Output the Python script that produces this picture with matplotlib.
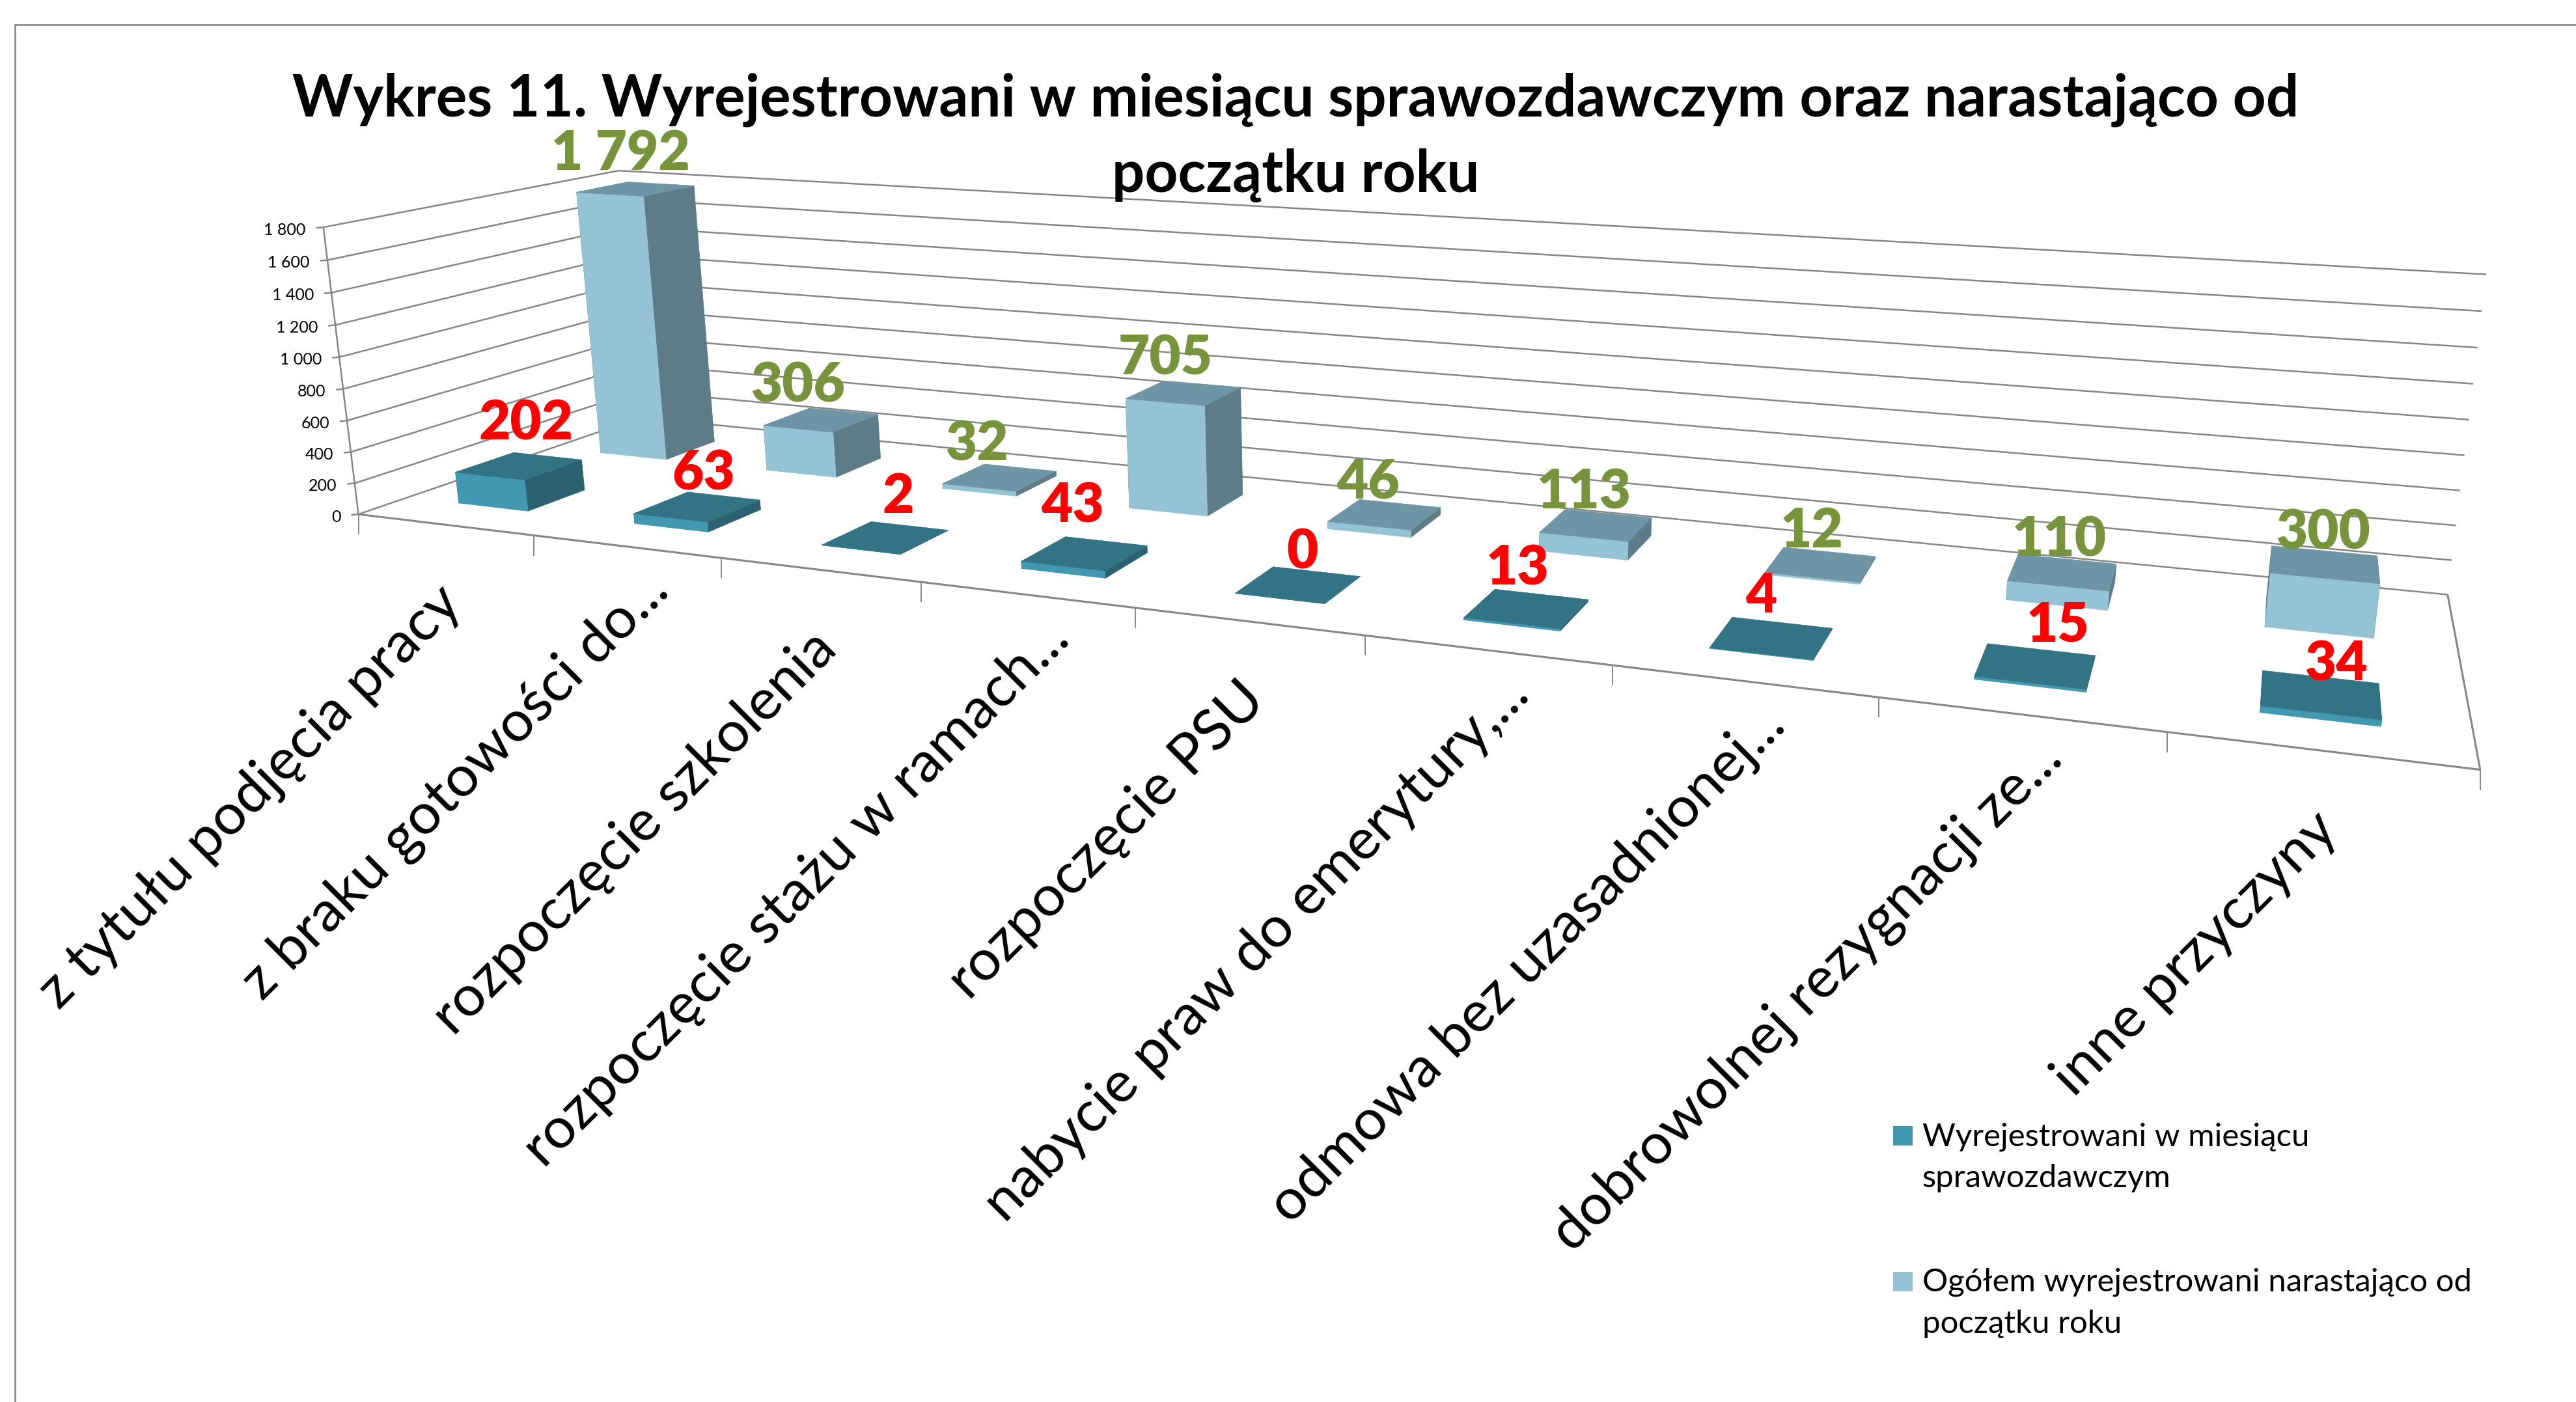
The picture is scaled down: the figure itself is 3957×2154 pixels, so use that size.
import numpy as np
import matplotlib
matplotlib.use('Agg')
import matplotlib.pyplot as plt
from matplotlib.legend_handler import HandlerPatch
from matplotlib.patches import Patch, Polygon, Rectangle

# ---------- data ----------
categories = ['z tytułu podjęcia pracy', 'z braku gotowości do...', 'rozpoczęcie szkolenia',
              'rozpoczęcie stażu w ramach...', 'rozpoczęcie PSU', 'nabycie praw do emerytury,...',
              'odmowa bez uzasadnionej...', 'dobrowolnej rezygnacji ze...', 'inne przyczyny']
monthly = [202, 63, 2, 43, 0, 13, 4, 15, 34]
cumulative = [1792, 306, 32, 705, 46, 113, 12, 110, 300]
value_ticks = [0, 200, 400, 600, 800, 1000, 1200, 1400, 1600, 1800]
series_names = ['Wyrejestrowani w miesiącu\nsprawozdawczym',
                'Ogółem wyrejestrowani narastająco od\npoczątku roku']
title_lines = 'Wykres 11. Wyrejestrowani w miesiącu sprawozdawczym oraz narastająco od\npoczątku roku'

# ---------- styles ----------
plt.rcParams['font.family'] = ['Lato', 'DejaVu Sans']
W, H = 3957, 2154
GREY = '#868686'
COL1 = dict(front='#4198B0', top='#327485', side='#2C6171')
COL2 = dict(front='#94C3D6', top='#6E95A5', side='#5E7B88')
RED, GREEN = '#FF0000', '#77933C'
BAR_U = (0.30, 0.70)
DEPTH1 = (0.155, 0.35)
DEPTH2 = (0.655, 0.85)
# label offsets from the top-back-centre of each bar (screen px)
OFF1 = [(-33, -50), (-31, -34), (-17, -44), (-52, -53), (-22, -29), (-36, -39), (-32, -40), (26, -37), (24, -19)]
OFF2 = [(-62, -46), (-71, -39), (-67, -36), (-56, -39), (-49, -33), (-37, -32), (-27, -31), (-12, -29), (-2, -27)]

# ---------- camera of the perspective view, calibrated on the chart's box ----------
CAL = [(0, 0, 0, 551, 789), (0, 0, 1800, 496, 349), (0, 1, 0, 983, 642), (0, 1, 1800, 951, 262),
       (9, 1, 0, 3760, 913), (9, 1, 1800, 3819, 422), (9, 0, 0, 3810, 1181),
       (1, 0, 0, 821, 823), (2, 0, 0, 1108, 857), (3, 0, 0, 1416, 895), (4, 0, 0, 1744.5, 934),
       (5, 0, 0, 2096.5, 977), (6, 0, 0, 2476, 1022), (7, 0, 0, 2885.6, 1072), (8, 0, 0, 3330, 1125)]
rows = []
for u, v, w, x, y in CAL:
    X = [u / 9, v, w / 1800, 1]
    rows.append(X + [0] * 4 + [-x / 1000 * t for t in X])
    rows.append([0] * 4 + X + [-y / 1000 * t for t in X])
P = np.linalg.svd(np.array(rows, float))[2][-1].reshape(3, 4)


def proj(u, v, w):
    h = P @ np.array([u / 9, v, w / 1800, 1.0])
    return h[0] / h[2] * 1000, h[1] / h[2] * 1000


def signed_area(pts):
    a = np.array(pts)
    x, y = a[:, 0], a[:, 1]
    return 0.5 * np.sum(x * np.roll(y, -1) - np.roll(x, -1) * y)


fig = plt.figure(figsize=(W / 100, H / 100), dpi=100, facecolor='white')
ax = fig.add_axes([0, 0, 1, 1])
ax.set_xlim(0, W)
ax.set_ylim(H, 0)
ax.axis('off')


def seg(a, b, lw=1.8, z=1):
    (x0, y0), (x1, y1) = a, b
    ax.plot([x0, x1], [y0, y1], color=GREY, lw=lw, solid_capstyle='butt', zorder=z)


# chart frame
ax.plot([23, 23, W], [H, 38, 38], color='#8C8C8C', lw=2.0, zorder=0, solid_joinstyle='miter')

# walls and floor
for t in value_ticks:
    seg(proj(0, 0, t), proj(0, 1, t))
    seg(proj(0, 1, t), proj(9, 1, t))
    x, y = proj(0, 0, t)
    seg((x - 11, y + 1), (x, y))
    ax.text(x - 27, y + 4, f'{t:,}'.replace(',', ' '), ha='right', va='center', fontsize=18, color='black')
seg(proj(0, 0, 0), proj(0, 0, 1800))
seg(proj(0, 0, 0), proj(9, 0, 0), lw=2.2)
seg(proj(9, 0, 0), proj(9, 1, 0), lw=2.2)
for i in range(len(categories) + 1):
    x, y = proj(i, 0, 0)
    seg((x, y), (x, y + 31), lw=1.4)


# bars
def bar(c, depth, val, col):
    u0, u1 = c + BAR_U[0], c + BAR_U[1]
    v0, v1 = depth
    left = [proj(u0, v1, 0), proj(u0, v0, 0), proj(u0, v0, val), proj(u0, v1, val)]
    right = [proj(u1, v0, 0), proj(u1, v1, 0), proj(u1, v1, val), proj(u1, v0, val)]
    front = [proj(u0, v0, 0), proj(u1, v0, 0), proj(u1, v0, val), proj(u0, v0, val)]
    top = [proj(u0, v0, val), proj(u1, v0, val), proj(u1, v1, val), proj(u0, v1, val)]
    sign = signed_area(front)
    faces = sorted([(left, col['side']), (right, col['side'])],
                   key=lambda f: signed_area(f[0]) * sign > 0)
    for poly, colour in faces + [(front, col['front']), (top, col['top'])]:
        ax.add_patch(Polygon(poly, closed=True, facecolor=colour, edgecolor=colour, lw=0.5, zorder=3))


for c, val in enumerate(cumulative):
    bar(c, DEPTH2, val, COL2)
for c, val in enumerate(monthly):
    bar(c, DEPTH1, val, COL1)

# data labels
for c, (val, off) in enumerate(zip(monthly, OFF1)):
    x, y = proj(c + 0.5, DEPTH1[1], val)
    ax.text(x + off[0], y + off[1], str(val), color=RED, fontsize=60, fontweight='heavy',
            ha='center', va='center', zorder=5)
for c, (val, off) in enumerate(zip(cumulative, OFF2)):
    x, y = proj(c + 0.5, DEPTH2[1], val)
    ax.text(x + off[0], y + off[1], f'{val:,}'.replace(',', ' '), color=GREEN, fontsize=60, fontweight='heavy',
            ha='center', va='center', zorder=5)

# category labels (the shortened ones sit further up the diagonal)
for c, name in enumerate(categories):
    x, y = proj(c + 0.5, 0, 0)
    dx, dy = (52, 55) if name.endswith('...') else (12, 108)
    ax.text(x + dx, y + dy, name, rotation=45, rotation_mode='anchor', ha='right', va='center',
            fontsize=63.5, color='black', zorder=4)

# title
ax.text(1990, 178, title_lines.split('\n')[0], ha='center', va='baseline', fontsize=64, fontweight='bold', zorder=6)
ax.text(1990, 295, title_lines.split('\n')[1], ha='center', va='baseline', fontsize=64, fontweight='bold', zorder=6)


# legend: the swatch sits beside the first line of its two-line entry
class FirstLineSwatch(HandlerPatch):
    def create_artists(self, legend, orig, xdescent, ydescent, width, height, fontsize, trans):
        return [Rectangle((-xdescent, -ydescent + 24), width, height, facecolor=orig.get_facecolor(),
                          edgecolor='none', transform=trans)]


handles = [Patch(facecolor=COL1['front'], edgecolor='none'), Patch(facecolor=COL2['front'], edgecolor='none')]
leg = ax.legend(handles, series_names, loc='upper left', bbox_to_anchor=(2908 / W, 1 - 1724 / H),
                bbox_transform=fig.transFigure, frameon=False, fontsize=35.4, handlelength=0.61, handleheight=0.5615,
                handletextpad=0.3, labelspacing=2.34, borderpad=0, borderaxespad=0, alignment='left',
                handler_map={Patch: FirstLineSwatch()})
for t in leg.get_texts():
    t.set_linespacing(1.55)

fig.savefig('out.png', dpi=100, facecolor='white')
